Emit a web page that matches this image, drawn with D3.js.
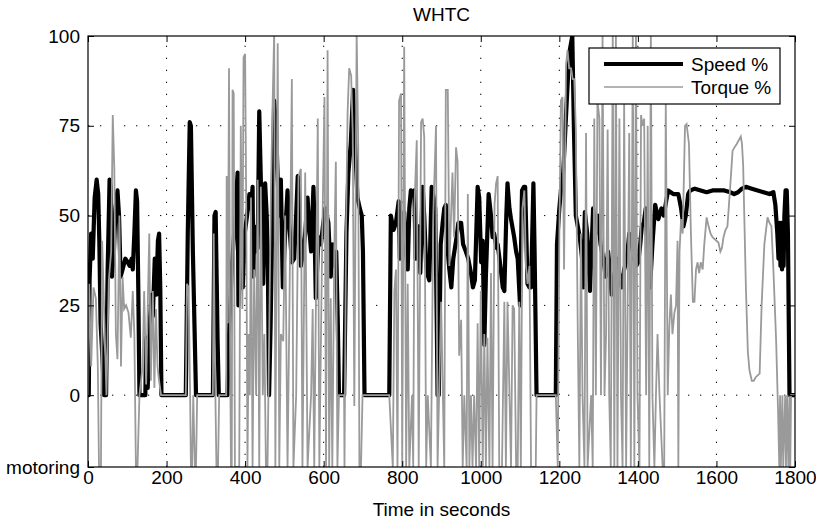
<!DOCTYPE html>
<html>
<head>
<meta charset="utf-8">
<script src="https://cdn.jsdelivr.net/npm/d3@7"></script>
<style>
  body { margin: 0; background: #fff; }
  text { font-family: "Liberation Sans", Arial, sans-serif; fill: #000; }
</style>
</head>
<body>
<div id="chart"></div>
<script>
// WHTC cycle, values ([seconds, percent])
const speedData = [
  [0,0],[2,0],[4,32],[8,45],[12,38],[17,55],[22,60],[26,56],[29,42],[32,20],[36,12],[41,0],[46,0],
  [50,35],[55,60],[58,58],[61,33],[66,40],[70,52],[75,57],[79,50],[83,33],[88,35],[95,38],[101,37],
  [106,36],[111,38],[114,35],[118,45],[122,57],[125,54],[128,30],[131,0],[146,0],[148,16],[152,2],
  [157,20],[162,28],[165,22],[170,38],[174,28],[178,43],[181,45],[184,30],[187,0],[249,0],[254,45],
  [259,76],[262,75],[267,40],[275,0],[318,0],[322,50],[325,51],[330,15],[333,0],[355,0],
  [360,20],[366,35],[372,45],[377,55],[381,62],[383,25],[388,35],[394,30],[399,45],[405,50],[411,56],
  [415,52],[419,58],[421,33],[423,47],[428,40],[432,41],[436,79],[440,60],[446,31],[451,59],[455,50],
  [458,35],[461,0],[465,20],[470,54],[474,82],[479,74],[483,60],[487,50],[491,60],[496,30],[502,45],
  [508,57],[513,47],[519,37],[525,38],[530,50],[534,61],[538,54],[542,36],[548,40],[553,45],[559,55],
  [563,47],[568,40],[574,58],[577,45],[580,27],[587,44],[593,42],[598,47],[604,52],
  [612,48],[618,33],[623,42],[627,36],[632,40],[636,20],[639,0],[652,0],[658,45],[663,62],[669,70],
  [675,85],[680,70],[686,55],[692,52],[697,50],[700,40],[704,0],[767,0],[771,50],[778,46],[784,48],
  [791,54],[794,38],[800,45],[805,51],[810,40],[814,35],[818,52],[822,57],[826,56],[831,57],[834,38],
  [838,42],[842,47],[846,34],[852,58],[856,50],[861,36],[866,33],[869,32],[875,58],[880,55],[884,52],
  [888,20],[890,0],[893,0],[898,42],[903,48],[907,52],
  [911,53],[916,40],[920,35],[925,30],[930,38],[937,43],[943,48],[950,48],[955,42],[962,40],[968,38],
  [975,34],[980,30],[985,32],[992,58],[996,55],[1001,37],[1005,43],[1009,14],[1013,33],[1020,56],
  [1026,50],[1030,44],[1034,45],[1040,41],[1043,42],[1051,35],[1056,30],[1060,29],[1065,50],[1068,59],
  [1073,52],[1077,49],[1085,44],[1090,40],[1094,38],[1100,25],[1105,57],[1110,58],[1113,58],[1119,31],
  [1124,30],[1128,30],[1134,59],[1137,40],[1142,0],[1191,0],[1194,42],[1200,52],[1205,58],[1210,62],
  [1218,80],[1225,95],[1233,100],[1237,75],[1242,50],[1252,44],[1258,38],[1261,30],[1265,51],[1271,45],
  [1278,29],[1286,52],[1292,45],[1298,50],[1305,42],[1312,38],[1318,33],[1324,40],[1328,36],[1333,28],
  [1340,33],[1346,38],[1352,34],[1359,30],[1365,35],[1372,38],[1378,45],[1384,42],[1390,38],[1396,36],
  [1401,37],[1406,42],[1410,47],[1415,48],[1420,52],[1425,44],[1431,30],[1437,42],[1444,53],[1452,49],
  [1460,52],[1466,50],[1472,54],[1477,57],[1490,56],[1503,56],[1510,52],[1516,47],[1522,50],[1528,56],
  [1533,57],[1545,57.5],[1560,57],[1575,56.5],[1590,57],[1605,57],[1620,57],[1635,56.5],[1645,56],
  [1655,56.5],[1665,57.5],[1675,58],[1690,57.5],[1705,57],[1720,56.5],[1735,56],[1745,56.5],[1750,53],
  [1755,45],[1758,38],[1761,48],[1763,36],[1765,48],[1767,35],[1769,48],[1771,36],[1773,50],[1776,57],
  [1779,57],[1782,45],[1786,0],[1800,0]
];

// -20 = motoring (bottom of the axis)
const torqueData = [
  [0,0],[3,31],[8,8],[14,30],[20,27],[25,8],[28,-20],[33,-20],[36,43],[42,20],[47,0],[53,32],[59,40],
  [63,78],[67,63],[71,17],[75,10],[80,50],[84,8],[88,33],[92,24],[97,25],[103,23],[109,16],[114,29],
  [118,17],[122,-20],[126,-20],[131,0],[139,8],[143,29],[148,3],[152,24],[156,45],[160,4],[165,29],
  [169,2],[173,24],[177,8],[181,4],[186,0],
  [249,0],[252,31],[256,30],[260,0],[262,-20],[265,-20],[268,0],[272,-20],[275,-20],[278,0],
  [318,0],[320,45],[323,10],[327,-20],[331,-20],[334,0],[352,0],
  [353,61],[356,20],[359,91],[362,10],[364,-20],[366,-20],[368,85],[371,84],[374,-20],[377,-20],
  [381,-20],[385,-20],[389,75],[393,24],[396,94],[400,95],[403,50],[406,-20],[409,17],[412,0],[415,55],
  [419,-20],[423,35],[428,0],[432,60],[436,-20],[440,58],[445,0],[449,17],[453,-20],[457,-20],[466,58],
  [470,81],[474,101],[477,-20],[483,98],[487,-20],[491,17],[497,15],[502,50],[508,-20],[513,26],
  [519,88],[523,-20],[530,0],[536,61],[542,63],[546,-20],[553,62],[559,-20],[568,0],[572,24],[576,-20],
  [585,77],[589,-20],[596,41],[602,83],[606,-20],
  [610,96],[614,-20],[618,27],[622,-20],[627,40],[631,65],[635,-20],[639,0],[652,0],[653,-20],[657,47],
  [661,79],[665,91],[670,89],[674,73],[678,-3],[684,101],[688,69],[691,-20],[695,-20],[699,0],[767,0],
  [776,-20],[780,29],[784,35],[788,-20],[792,82],[797,84],[800,-20],[805,97],[810,-20],[814,31],
  [818,-20],[825,0],[828,-20],[831,52],[837,71],[842,-20],[848,76],[852,77],[856,72],[861,-20],[865,0],
  [873,-20],[879,50],[886,75],[890,-20],[899,26],[907,-20],
  [911,85],[916,85],[920,36],[928,62],[932,44],[937,69],[941,65],[945,11],[950,21],[954,-20],[958,0],
  [964,-20],[967,56],[971,-20],[975,0],[979,-20],[983,0],[988,-20],[992,20],[996,-20],[1000,29],
  [1005,-20],[1009,17],[1013,-20],[1017,16],[1022,-20],[1026,34],[1030,-20],[1035,53],[1039,59],
  [1043,61],[1047,-20],[1054,-20],[1060,26],[1064,-20],[1068,26],[1077,-20],[1081,25],[1085,24],
  [1090,-20],[1094,-20],[1098,26],[1102,-20],[1106,52],[1111,57],[1115,36],[1119,31],[1124,36],
  [1128,-20],[1132,-20],[1140,-20],[1142,0],[1191,0],[1196,-20],[1200,44],[1204,82],[1208,83],
  [1212,35],[1217,92],
  [1221,96],[1225,91],[1230,91],[1234,88],[1238,88],[1242,74],[1247,17],[1251,-20],[1255,45],[1259,0],
  [1264,-20],[1268,73],[1272,-20],[1281,0],[1285,-20],[1289,77],[1293,0],[1297,82],[1302,77],[1306,0],
  [1310,101],[1315,0],[1319,17],[1323,74],[1327,0],[1331,-20],[1336,101],[1340,-20],[1344,101],
  [1348,-20],[1353,77],[1357,0],[1361,-20],[1365,82],[1370,-20],[1374,26],[1378,73],[1382,-20],
  [1387,101],[1391,-20],[1395,101],[1399,0],[1404,-20],[1408,78],[1412,75],[1416,77],[1421,0],
  [1425,75],[1429,-20],[1433,101],[1437,0],[1442,-20],[1446,0],[1450,17],[1455,0],[1463,-20],
  [1467,-20],[1471,82],[1476,0],[1480,19],[1484,28],[1488,17],[1493,23],[1497,25],[1501,43],
  [1503,-20],[1506,40],[1510,49],[1514,45],[1520,75],
  [1524,75.5],[1530,70],[1535,45],[1540,26],[1544,26],[1548,35],[1552,37],[1556,34],[1560,37],
  [1565,35],[1569,42],[1575,49.5],[1580,47],[1585,45],[1590,44],[1600,43],[1605,42.5],[1610,40],
  [1614,41],[1618,44],[1623,46],[1628,47],[1635,58],[1641,68],[1646,69],[1652,70],[1657,71],[1662,72],
  [1665,70],[1668,64],[1675,30],[1680,12],[1684,7],[1690,4],[1695,4],[1700,5],[1705,5.5],[1710,6],
  [1715,25],[1722,42],[1730,49.5],[1735,48],[1740,47],[1745,35],[1752,15],[1757,-5],[1760,-20],
  [1762,0],[1764,-20],[1768,0],[1770,-20],[1775,0],[1777,-20],[1780,0],[1783,-20],[1786,0],
  [1788,-20],[1790,0],[1800,0]
];

const xTicks = [0, 200, 400, 600, 800, 1000, 1200, 1400, 1600, 1800];
const yTicks = [-20, 0, 25, 50, 75, 100];
const yTickLabels = ["motoring", "0", "25", "50", "75", "100"];
const seriesNames = ["Speed %", "Torque %"];

const W = 816, H = 523;
const box = { left: 88, right: 795, top: 36, bottom: 467 };

const svg = d3.select("#chart").append("svg")
  .attr("width", W)
  .attr("height", H);

svg.append("rect").attr("width", W).attr("height", H).attr("fill", "#fff");

const x = d3.scaleLinear().domain([0, 1800]).range([box.left, box.right]);
const y = d3.scaleLinear().domain([-20, 100]).range([box.bottom, box.top]);

// dotted grid
const grid = svg.append("g")
  .attr("stroke", "#000")
  .attr("stroke-width", 1)
  .attr("stroke-dasharray", "1.3,10.7");

grid.selectAll(".gx")
  .data(xTicks.slice(1, -1))
  .enter().append("line")
  .attr("x1", d => x(d)).attr("x2", d => x(d))
  .attr("y1", box.bottom).attr("y2", box.top);

grid.selectAll(".gy")
  .data(yTicks.slice(1, -1))
  .enter().append("line")
  .attr("x1", box.left).attr("x2", box.right)
  .attr("y1", d => y(d)).attr("y2", d => y(d));

// data lines, clipped to the axes box
svg.append("clipPath").attr("id", "clip")
  .append("rect")
  .attr("x", box.left).attr("y", box.top)
  .attr("width", box.right - box.left).attr("height", box.bottom - box.top);

const line = d3.line()
  .x(d => x(d[0]))
  .y(d => y(d[1]));

const plot = svg.append("g").attr("clip-path", "url(#clip)");

plot.append("path")
  .datum(speedData)
  .attr("fill", "none")
  .attr("stroke", "#000")
  .attr("stroke-width", 4.2)
  .attr("stroke-linejoin", "round")
  .attr("d", line);

plot.append("path")
  .datum(torqueData)
  .attr("fill", "none")
  .attr("stroke", "#9a9a9a")
  .attr("stroke-width", 1.8)
  .attr("d", line);

// axes (ticks inward, box all round)
svg.append("g")
  .attr("transform", `translate(0,${box.bottom})`)
  .call(d3.axisBottom(x).tickValues(xTicks).tickSize(-6).tickPadding(4)
    .tickFormat(d3.format("d")))
  .call(g => g.select(".domain").remove());

svg.append("g")
  .attr("transform", `translate(0,${box.top})`)
  .call(d3.axisTop(x).tickValues(xTicks).tickSize(-6).tickFormat(""))
  .call(g => g.select(".domain").remove());

svg.append("g")
  .attr("transform", `translate(${box.left},0)`)
  .call(d3.axisLeft(y).tickValues(yTicks).tickSize(-6).tickPadding(8)
    .tickFormat((d, i) => yTickLabels[i]))
  .call(g => g.select(".domain").remove());

svg.append("g")
  .attr("transform", `translate(${box.right},0)`)
  .call(d3.axisRight(y).tickValues(yTicks).tickSize(-6).tickFormat(""))
  .call(g => g.select(".domain").remove());

svg.selectAll(".tick text")
  .attr("font-size", 19)
  .attr("font-family", "Liberation Sans, Arial, sans-serif");

svg.selectAll(".tick line").attr("stroke", "#000");

svg.append("rect")
  .attr("x", box.left).attr("y", box.top)
  .attr("width", box.right - box.left).attr("height", box.bottom - box.top)
  .attr("fill", "none")
  .attr("stroke", "#000")
  .attr("stroke-width", 1.2);

// title and axis label
svg.append("text")
  .attr("x", (box.left + box.right) / 2)
  .attr("y", 21)
  .attr("text-anchor", "middle")
  .attr("font-size", 19)
  .text("WHTC");

svg.append("text")
  .attr("x", (box.left + box.right) / 2)
  .attr("y", 516)
  .attr("text-anchor", "middle")
  .attr("font-size", 19)
  .text("Time in seconds");

// legend
const legend = svg.append("g");
legend.append("rect")
  .attr("x", 589).attr("y", 48)
  .attr("width", 191).attr("height", 56)
  .attr("fill", "#fff")
  .attr("stroke", "#000")
  .attr("stroke-width", 1.2);

const legendStyles = [
  { color: "#000", width: 4 },
  { color: "#9a9a9a", width: 1.5 }
];

seriesNames.forEach((name, i) => {
  const ly = 64 + i * 23;
  legend.append("line")
    .attr("x1", 604).attr("x2", 683)
    .attr("y1", ly).attr("y2", ly)
    .attr("stroke", legendStyles[i].color)
    .attr("stroke-width", legendStyles[i].width);
  legend.append("text")
    .attr("x", 691)
    .attr("y", ly + 7)
    .attr("font-size", 19)
    .text(name);
});
</script>
</body>
</html>
